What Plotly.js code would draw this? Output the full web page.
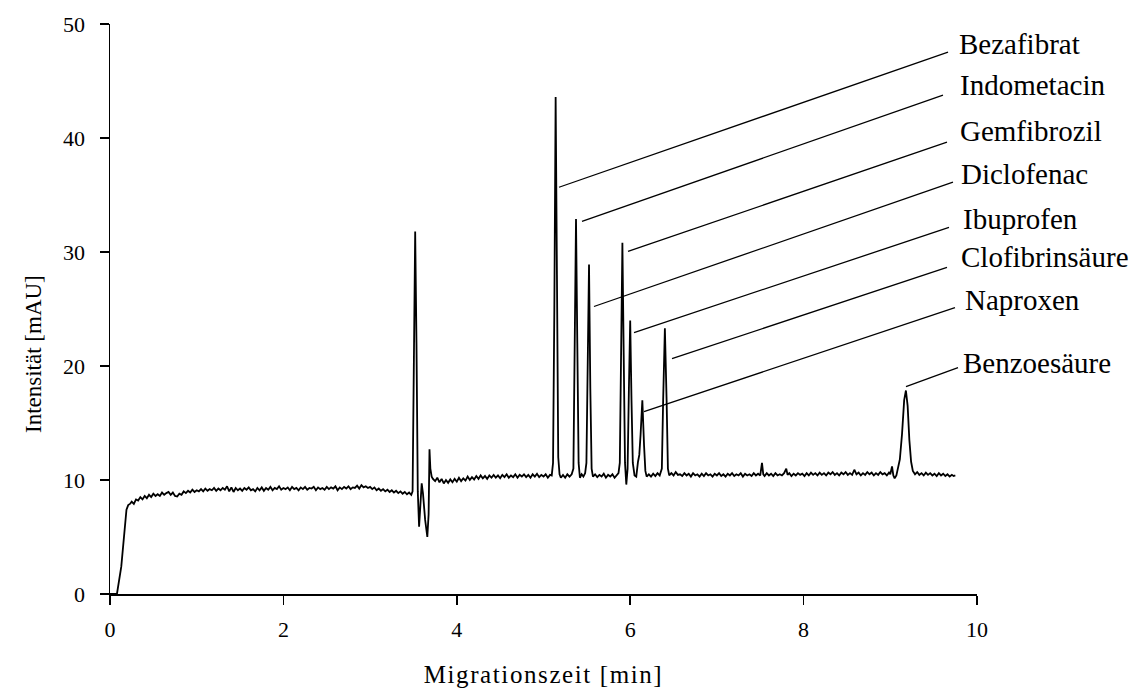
<!DOCTYPE html>
<html>
<head>
<meta charset="utf-8">
<script src="https://cdn.plot.ly/plotly-3.0.1.min.js"></script>
<style>
  html, body { margin: 0; padding: 0; background: #fff; }
  #chart { width: 1132px; height: 688px; }
  .xtitle { letter-spacing: 1.6px; }
</style>
</head>
<body>
<div id="chart"></div>
<script>
// Migration time [min] and intensity [mAU]
const migrationTime = [
  0.00, 0.08, 0.13, 0.19, 0.21, 0.23, 0.25, 0.275, 0.30, 0.325, 0.35, 0.375, 0.40, 0.425, 0.45, 0.475,
  0.50, 0.525, 0.55, 0.575, 0.60, 0.625, 0.65, 0.675, 0.70, 0.725, 0.75, 0.775, 0.80, 0.825, 0.85, 0.875,
  0.90, 0.925, 0.95, 0.975, 1.00, 1.025, 1.05, 1.075, 1.10, 1.125, 1.15, 1.175, 1.20, 1.225, 1.25, 1.275,
  1.30, 1.325, 1.35, 1.375, 1.40, 1.425, 1.45, 1.475, 1.50, 1.525, 1.55, 1.575, 1.60, 1.625, 1.65, 1.675,
  1.70, 1.725, 1.75, 1.775, 1.80, 1.825, 1.85, 1.875, 1.90, 1.925, 1.95, 1.975, 2.00, 2.025, 2.05, 2.075,
  2.10, 2.125, 2.15, 2.175, 2.20, 2.225, 2.25, 2.275, 2.30, 2.325, 2.35, 2.375, 2.40, 2.425, 2.45, 2.475,
  2.50, 2.525, 2.55, 2.575, 2.60, 2.625, 2.65, 2.675, 2.70, 2.725, 2.75, 2.775, 2.80, 2.825, 2.85, 2.875,
  2.90, 2.925, 2.95, 2.975, 3.00, 3.025, 3.05, 3.075, 3.10, 3.125, 3.15, 3.175, 3.20, 3.225, 3.25, 3.275,
  3.30, 3.325, 3.35, 3.375, 3.40, 3.425, 3.45, 3.475, 3.49, 3.505, 3.52, 3.535, 3.55, 3.565, 3.58, 3.595,
  3.61, 3.635, 3.66, 3.675, 3.685, 3.695, 3.71, 3.725, 3.75, 3.775, 3.80, 3.825, 3.85, 3.875, 3.90, 3.925,
  3.95, 3.975, 4.00, 4.025, 4.05, 4.075, 4.10, 4.125, 4.15, 4.175, 4.20, 4.225, 4.25, 4.275, 4.30, 4.325,
  4.35, 4.375, 4.40, 4.425, 4.45, 4.475, 4.50, 4.525, 4.55, 4.575, 4.60, 4.625, 4.65, 4.675, 4.70, 4.725,
  4.75, 4.775, 4.80, 4.825, 4.85, 4.875, 4.90, 4.925, 4.95, 4.975, 5.00, 5.025, 5.05, 5.075, 5.095, 5.11,
  5.125, 5.14, 5.155, 5.17, 5.185, 5.20, 5.225, 5.25, 5.275, 5.30, 5.325, 5.345, 5.36, 5.375, 5.39, 5.405,
  5.42, 5.44, 5.46, 5.48, 5.495, 5.51, 5.525, 5.54, 5.555, 5.57, 5.595, 5.62, 5.645, 5.67, 5.695, 5.72,
  5.745, 5.77, 5.795, 5.82, 5.845, 5.865, 5.88, 5.895, 5.91, 5.925, 5.94, 5.955, 5.97, 5.985, 6.00, 6.015,
  6.03, 6.05, 6.07, 6.09, 6.105, 6.12, 6.14, 6.16, 6.175, 6.19, 6.215, 6.24, 6.265, 6.29, 6.315, 6.34,
  6.365, 6.38, 6.40, 6.42, 6.435, 6.45, 6.475, 6.50, 6.525, 6.55, 6.575, 6.60, 6.625, 6.65, 6.675, 6.70,
  6.725, 6.75, 6.775, 6.80, 6.825, 6.85, 6.875, 6.90, 6.925, 6.95, 6.975, 7.00, 7.025, 7.05, 7.075, 7.10,
  7.125, 7.15, 7.175, 7.20, 7.225, 7.25, 7.275, 7.30, 7.325, 7.35, 7.375, 7.40, 7.425, 7.45, 7.475, 7.50,
  7.52, 7.535, 7.55, 7.575, 7.60, 7.625, 7.65, 7.675, 7.70, 7.725, 7.75, 7.775, 7.80, 7.815, 7.835, 7.86,
  7.885, 7.91, 7.935, 7.96, 7.985, 8.01, 8.035, 8.06, 8.085, 8.11, 8.135, 8.16, 8.185, 8.21, 8.235, 8.26,
  8.285, 8.31, 8.335, 8.36, 8.385, 8.41, 8.435, 8.46, 8.485, 8.51, 8.535, 8.56, 8.585, 8.61, 8.635, 8.66,
  8.685, 8.71, 8.735, 8.76, 8.785, 8.81, 8.835, 8.86, 8.885, 8.91, 8.935, 8.96, 8.985, 9.00, 9.02, 9.035,
  9.05, 9.07, 9.09, 9.11, 9.135, 9.16, 9.18, 9.20, 9.22, 9.24, 9.26, 9.285, 9.31, 9.335, 9.36, 9.385,
  9.41, 9.435, 9.46, 9.485, 9.51, 9.535, 9.56, 9.585, 9.61, 9.635, 9.66, 9.685, 9.71, 9.73, 9.75
];
const intensity = [
  0.0, 0.0, 2.4, 7.4, 7.8, 7.9, 8.1, 7.9, 8.3, 8.2, 8.5, 8.3, 8.6, 8.4, 8.7, 8.5,
  8.8, 8.6, 8.75, 8.6, 8.9, 8.7, 8.85, 8.95, 8.7, 8.9, 8.6, 8.55, 8.8, 8.7, 9.0, 8.85,
  9.05, 8.9, 9.15, 8.95, 9.1, 9.0, 9.2, 9.0, 9.25, 9.05, 9.2, 9.1, 9.3, 9.05, 9.25, 9.1,
  9.3, 9.15, 9.45, 9.0, 9.35, 8.95, 9.3, 9.1, 9.25, 9.05, 9.3, 9.15, 9.35, 9.1, 9.2, 9.0,
  9.3, 9.1, 9.35, 9.05, 9.3, 9.15, 9.4, 9.1, 9.3, 9.2, 9.45, 9.15, 9.3, 9.2, 9.35, 9.1,
  9.4, 9.2, 9.3, 9.1, 9.35, 9.2, 9.4, 9.15, 9.3, 9.25, 9.4, 9.1, 9.35, 9.2, 9.3, 9.15,
  9.4, 9.2, 9.35, 9.25, 9.45, 9.1, 9.35, 9.2, 9.4, 9.25, 9.45, 9.2, 9.35, 9.3, 9.5, 9.25,
  9.55, 9.35, 9.45, 9.3, 9.4, 9.2, 9.35, 9.1, 9.25, 9.05, 9.2, 9.0, 9.15, 8.95, 9.1, 8.9,
  9.05, 8.85, 9.0, 8.8, 8.95, 8.75, 8.9, 8.7, 9.0, 20.0, 31.8, 22.0, 9.0, 5.9, 7.5, 9.7,
  8.8, 6.5, 5.0, 7.0, 12.7, 11.0, 10.3, 10.1, 9.9, 10.2, 9.8, 10.1, 9.7, 10.0, 9.75, 10.05,
  9.8, 10.1, 9.85, 10.2, 9.9, 10.15, 9.95, 10.3, 10.0, 10.25, 10.05, 10.35, 10.1, 10.4, 10.15, 10.35,
  10.1, 10.4, 10.2, 10.45, 10.2, 10.4, 10.15, 10.45, 10.25, 10.5, 10.2, 10.4, 10.25, 10.5, 10.2, 10.45,
  10.3, 10.5, 10.25, 10.45, 10.2, 10.5, 10.3, 10.55, 10.25, 10.45, 10.3, 10.5, 10.2, 10.45, 10.4, 11.5,
  25.0, 43.6, 28.0, 12.0, 10.5, 10.2, 10.45, 10.2, 10.5, 10.3, 10.5, 11.0, 22.0, 32.9, 22.0, 11.5,
  10.2, 10.5, 10.3, 10.6, 11.5, 22.0, 28.9, 18.0, 11.0, 10.3, 10.5, 10.25, 10.45, 10.3, 10.55, 10.2,
  10.45, 10.3, 10.5, 10.2, 10.45, 10.6, 11.5, 21.0, 30.8, 21.0, 11.5, 9.6, 11.0, 18.0, 24.0, 17.0,
  11.5, 10.4, 10.3, 11.6, 12.2, 14.0, 17.0, 13.0, 10.8, 10.3, 10.5, 10.3, 10.55, 10.35, 10.6, 10.4,
  11.0, 17.0, 23.3, 17.0, 11.0, 10.4, 10.6, 10.4, 10.7, 10.45, 10.5, 10.35, 10.6, 10.4, 10.55, 10.3,
  10.6, 10.4, 10.5, 10.3, 10.55, 10.35, 10.6, 10.4, 10.5, 10.3, 10.55, 10.4, 10.6, 10.35, 10.5, 10.3,
  10.55, 10.4, 10.6, 10.35, 10.5, 10.4, 10.6, 10.3, 10.55, 10.4, 10.5, 10.35, 10.6, 10.4, 10.55, 10.4,
  11.5, 10.5, 10.35, 10.6, 10.4, 10.55, 10.35, 10.6, 10.4, 10.5, 10.4, 10.6, 11.0, 10.45, 10.6, 10.35,
  10.55, 10.4, 10.6, 10.45, 10.55, 10.35, 10.6, 10.4, 10.65, 10.45, 10.6, 10.4, 10.65, 10.45, 10.6, 10.4,
  10.65, 10.5, 10.7, 10.45, 10.6, 10.4, 10.65, 10.5, 10.7, 10.45, 10.6, 10.45, 10.9, 10.5, 10.65, 10.4,
  10.6, 10.45, 10.7, 10.5, 10.65, 10.4, 10.6, 10.45, 10.7, 10.5, 10.6, 10.4, 10.65, 10.5, 11.2, 10.4,
  10.15, 10.4, 11.0, 11.8, 14.0, 17.0, 17.85, 16.5, 13.5, 11.6, 10.8, 10.5, 10.7, 10.45, 10.6, 10.4,
  10.65, 10.45, 10.6, 10.4, 10.55, 10.35, 10.6, 10.4, 10.55, 10.35, 10.5, 10.3, 10.45, 10.35, 10.4
];

// Peak labels (compound names)
const compounds = ["Bezafibrat", "Indometacin", "Gemfibrozil", "Diclofenac", "Ibuprofen", "Clofibrinsäure", "Naproxen", "Benzoesäure"];

const xTickVals = [0, 2, 4, 6, 8, 10];
const yTickVals = [0, 10, 20, 30, 40, 50];

// Layout helpers (positions of leader lines and label texts, in axis units)
const leaderStart = [[5.179, 35.68], [5.444, 32.69], [5.975, 30.05], [5.582, 25.22], [6.044, 22.93], [6.482, 20.65], [6.159, 15.99], [9.181, 18.19]];
const leaderEnd = [[9.666, 47.54], [9.608, 43.76], [9.654, 39.63], [9.723, 36.12], [9.677, 32.16], [9.654, 28.65], [9.746, 25.13], [9.781, 19.86]];
const labelPx = [957, 958, 958, 959, 961, 959, 963, 961];
const labelY = [48.24, 44.64, 40.60, 36.82, 32.86, 29.53, 25.83, 20.30];

const serif = "Liberation Serif, Times New Roman, serif";

const trace = {
  x: migrationTime,
  y: intensity,
  type: "scatter",
  mode: "lines",
  line: { color: "#000", width: 1.8 },
  hoverinfo: "skip"
};

const shapes = leaderStart.map((s, i) => ({
  type: "line", xref: "x", yref: "y",
  x0: s[0], y0: s[1], x1: leaderEnd[i][0], y1: leaderEnd[i][1],
  line: { color: "#000", width: 1.3 }
}));

const annotations = compounds.map((name, i) => ({
  text: name,
  xref: "paper", yref: "y",
  x: (labelPx[i] - 110) / 867, y: labelY[i],
  xanchor: "left", yanchor: "middle",
  showarrow: false,
  font: { family: serif, size: 29, color: "#000" }
}));

// y-axis title, placed where the reference draws it (slightly below the axis middle)
annotations.push({
  text: "Intensität [mAU]",
  xref: "paper", yref: "paper",
  x: (33 - 110) / 867, y: (594 - 354) / 570,
  xanchor: "center", yanchor: "middle",
  textangle: -90, showarrow: false,
  font: { family: serif, size: 23, color: "#000" }
});

const layout = {
  width: 1132, height: 688,
  margin: { l: 110, r: 155, t: 24, b: 94 },
  paper_bgcolor: "#fff", plot_bgcolor: "#fff",
  showlegend: false,
  xaxis: {
    range: [0, 10], tickvals: xTickVals, ticktext: xTickVals.map(String),
    showgrid: false, zeroline: false, showline: true, linecolor: "#000", linewidth: 1.5,
    ticks: "outside", ticklen: 9, tickwidth: 1.5, tickcolor: "#000",
    ticklabelstandoff: 6,
    tickfont: { family: serif, size: 22, color: "#000" },
    title: { text: "Migrationszeit [min]", font: { family: serif, size: 25, color: "#000" }, standoff: 26 }
  },
  yaxis: {
    range: [0, 50], tickvals: yTickVals, ticktext: yTickVals.map(String),
    showgrid: false, zeroline: false, showline: true, linecolor: "#000", linewidth: 1.5,
    ticks: "outside", ticklen: 9, tickwidth: 1.5, tickcolor: "#000",
    ticklabelstandoff: 10,
    tickfont: { family: serif, size: 22, color: "#000" }
  },
  shapes: shapes,
  annotations: annotations
};

Plotly.newPlot("chart", [trace], layout, { displayModeBar: false, staticPlot: true });
</script>
</body>
</html>
